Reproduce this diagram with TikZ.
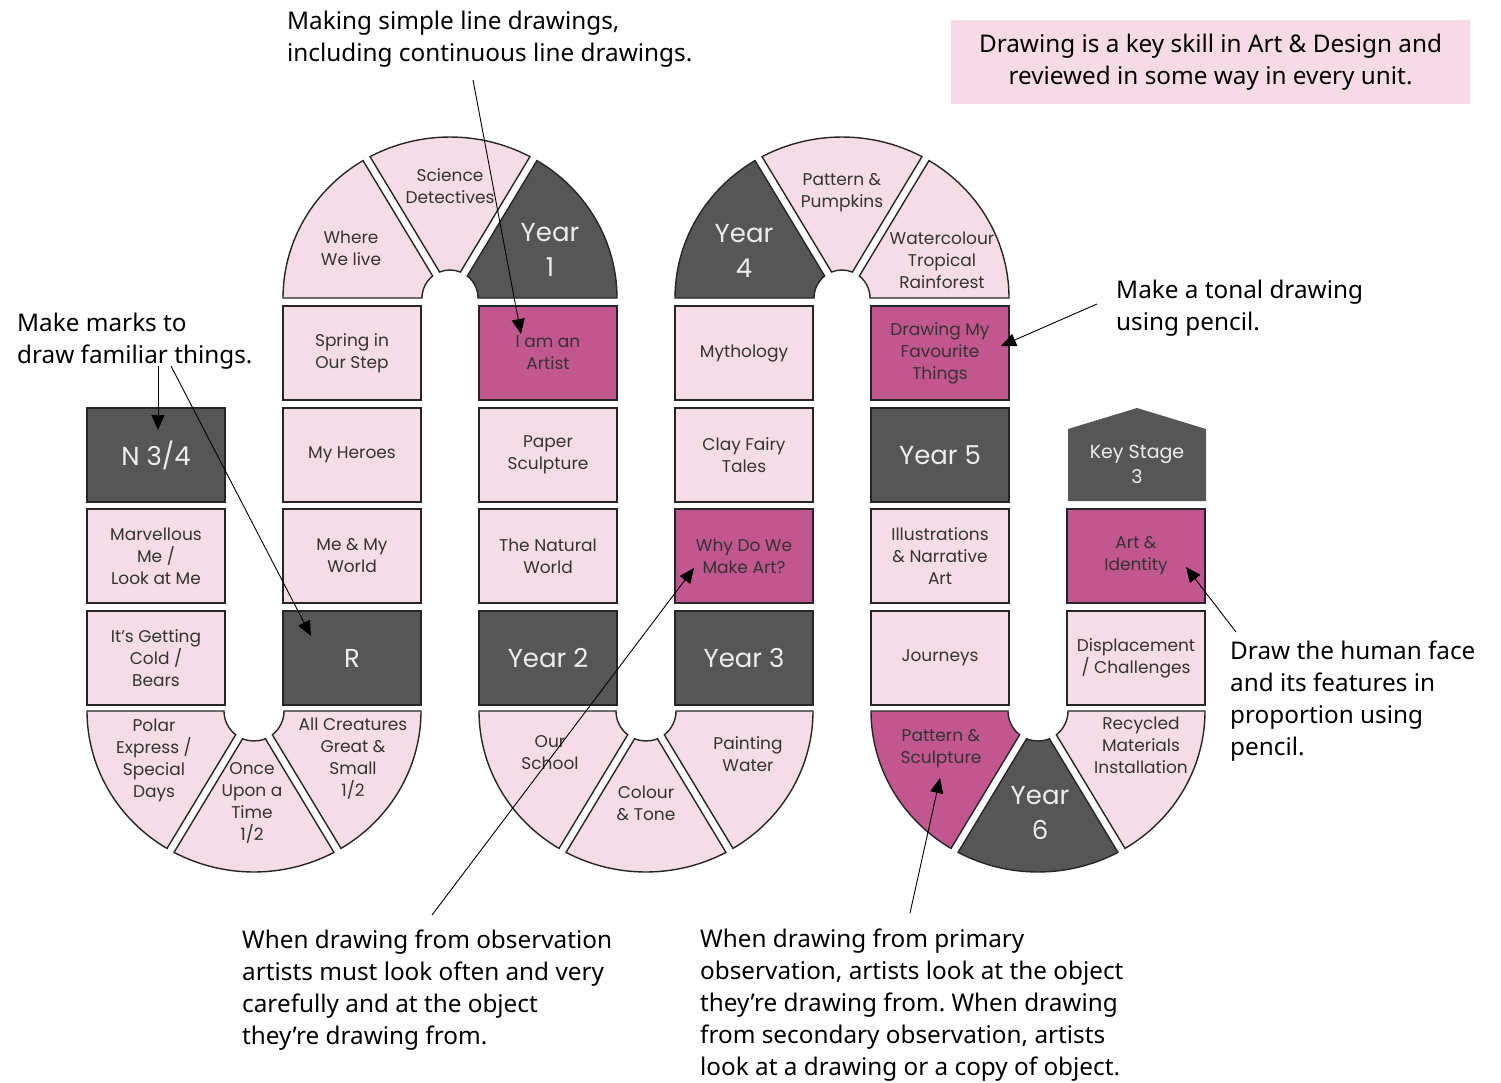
\documentclass[tikz,border=0pt]{standalone}
\usepackage{fontspec}
\setmainfont{Noto Sans}
\newfontfamily\unitfont{Poppins}
\usetikzlibrary{arrows.meta}
\frenchspacing

\definecolor{unitpink}{HTML}{F6DCE7}
\definecolor{drawpink}{HTML}{C2568F}
\definecolor{yeargrey}{HTML}{565656}
\definecolor{notepink}{HTML}{F6DBE6}
\definecolor{unittext}{HTML}{333333}

\def\Rx{167} % outer half width of a bend
\def\Ry{161} % outer height of a bend
\def\Rgap{164}
\def\Rin{28} % radius of the hole
% one piece of a bend: [fill]{cx}{cy}{start}{end}{gap at start}{gap at end}
\newcommand\DrawSector[7][unitpink]{%
  \pgfmathsetmacro\angOutA{#4+asin(#6/\Rgap)}%
  \pgfmathsetmacro\angInA{#4+asin(#6/\Rin)}%
  \pgfmathsetmacro\angOutB{#5-asin(#7/\Rgap)}%
  \pgfmathsetmacro\angInB{#5-asin(#7/\Rin)}%
  \filldraw[fill=#1, draw=black!85, line width=1.4pt, shift={(#2,#3)}]
    ({\Rx*cos(\angOutA)},{\Ry*sin(\angOutA)}) arc[start angle=\angOutA, end angle=\angOutB, x radius=\Rx, y radius=\Ry]
    -- ({\Rin*cos(\angInB)},{\Rin*sin(\angInB)}) arc[start angle=\angInB, end angle=\angInA, radius=\Rin] -- cycle;
}

\tikzset{
  unitbox/.style={draw=black!85, line width=1.4pt, fill=unitpink, minimum width=138, minimum height=94,
    inner sep=0pt, align=center, text=unittext, font=\unitfont\fontsize{17}{22}\selectfont},
  drawbox/.style={unitbox, fill=drawpink},
  yearbox/.style={unitbox, fill=yeargrey, text=white!93!black, font=\unitfont\fontsize{26}{35}\selectfont},
  sectortext/.style={align=center, inner sep=0pt, text=unittext, font=\unitfont\fontsize{17}{22}\selectfont},
  yeartext/.style={sectortext, text=white!93!black, font=\unitfont\fontsize{26}{35}\selectfont},
  remark/.style={align=left, anchor=north west, inner sep=0pt, font=\fontsize{24.3}{32}\selectfont},
  pointer/.style={-{Triangle[length=15pt,width=13pt]}, line width=0.9pt},
}

\begin{document}
\begin{tikzpicture}[x=1pt, y=-1pt]
\useasboundingbox (0,0) rectangle (1501,1082);

% bends at the top
\DrawSector{450}{298}{180}{240}{0}{4}
\DrawSector{450}{298}{240}{300}{4}{4}
\DrawSector[yeargrey]{450}{298}{300}{360}{4}{0}
\DrawSector[yeargrey]{842}{298}{180}{240}{0}{4}
\DrawSector{842}{298}{240}{300}{4}{4}
\DrawSector{842}{298}{300}{360}{4}{0}

% bends at the bottom
\def\Rin{30}
\DrawSector{254}{711}{120}{180}{4}{0}
\DrawSector{254}{711}{60}{120}{4}{4}
\DrawSector{254}{711}{0}{60}{0}{4}
\DrawSector{646}{711}{120}{180}{4}{0}
\DrawSector{646}{711}{60}{120}{4}{4}
\DrawSector{646}{711}{0}{60}{0}{4}
\DrawSector[drawpink]{1038}{711}{120}{180}{4}{0}
\DrawSector[yeargrey]{1038}{711}{60}{120}{4}{4}
\DrawSector{1038}{711}{0}{60}{0}{4}

\node[sectortext] (where) at (351,248) {Where\\We live};
\node[sectortext] (science) at (450,186) {Science\\Detectives};
\node[yeartext] (year1) at (550,250) {Year\\1};
\node[yeartext] (year4) at (744,251) {Year\\4};
\node[sectortext] (pumpkins) at (842,193) {Pattern \&\\Pumpkins};
\node[sectortext] (rainforest) at (942,260) {Watercolour\\Tropical\\Rainforest};
\node[sectortext] (polar) at (154,760) {Polar\\Express /\\Special\\Days};
\node[sectortext] (onceupon) at (252,803) {Once\\Upon a\\Time\\1/2};
\node[sectortext] (creatures) at (353,759) {All Creatures\\Great \&\\Small\\1/2};
\node[sectortext] (school) at (550,753) {Our\\School};
\node[sectortext] (colour) at (646,803) {Colour\\\& Tone};
\node[sectortext] (painting) at (748,754) {Painting\\Water};
\node[sectortext] (sculpture) at (941,749) {Pattern \&\\Sculpture};
\node[yeartext] (year6) at (1040,813) {Year\\6};
\node[sectortext] (recycled) at (1141,745) {Recycled\\Materials\\Installation};

% straight parts
\foreach \n/\x/\y/\t in {marvel/156/556/{Marvellous\\Me /\\Look at Me},
  cold/156/658/{It’s Getting\\Cold /\\Bears}, spring/352/353/{Spring in\\Our Step},
  heroes/352/455/{My Heroes}, world/352/556/{Me \& My\\World},
  paper/548/455/{Paper\\Sculpture}, natural/548/556/{The Natural\\World},
  myth/744/353/{Mythology}, clay/744/455/{Clay Fairy\\Tales},
  illus/940/556/{Illustrations\\\& Narrative\\Art}, journeys/940/658/{Journeys},
  displace/1136/658/{Displacement\\/ Challenges}}
  \node[unitbox] (\n) at (\x,\y) {\t};
\foreach \n/\x/\y/\t in {artist/548/353/{I am an\\Artist}, whyart/744/556/{Why Do We\\Make Art?},
  favourite/940/353/{Drawing My\\Favourite\\Things}, identity/1136/556/{Art \&\\Identity}}
  \node[drawbox] (\n) at (\x,\y) {\t};
\foreach \n/\x/\y/\t in {nursery/156/455/{N 3/4}, reception/352/658/{R}, year2/548/658/{Year 2},
  year3/744/658/{Year 3}, year5/940/455/{Year 5}}
  \node[yearbox] (\n) at (\x,\y) {\t};

% key stage 3 sign
\fill[yeargrey] (1068,501) -- (1068,429) -- (1137,408) -- (1206,429) -- (1206,501) -- cycle;
\node[yeartext, font=\unitfont\fontsize{19}{25}\selectfont] (stage3) at (1137,464) {Key Stage\\3};

% notes
\node[fill=notepink, minimum width=519, minimum height=84, inner sep=0pt, align=center,
  font=\fontsize{24.3}{32}\selectfont] (keynote) at (1210.5,62)
  {Drawing is a key skill in Art \& Design and\\reviewed in some way in every unit.};
\node[remark] (linenote) at (287,11) {Making simple line drawings,\\including continuous line drawings.};
\node[remark] (marksnote) at (17,313) {Make marks to\\draw familiar things.};
\node[remark] (tonalnote) at (1116,280) {Make a tonal drawing\\using pencil.};
\node[remark] (facenote) at (1230,641) {Draw the human face\\and its features in\\proportion using\\pencil.};
\node[remark] (looknote) at (242,930) {When drawing from observation\\artists must look often and very\\carefully and at the object\\they're drawing from.};
\node[remark] (primarynote) at (700,929) {When drawing from primary\\observation, artists look at the object\\they're drawing from. When drawing\\from secondary observation, artists\\look at a drawing or a copy of object.};

\coordinate (lineA) at (473,80);
\coordinate (lineB) at (521,334);
\coordinate (marksA) at (158,366);
\coordinate (marksB) at (158,430);
\coordinate (marksC) at (171,366);
\coordinate (marksD) at (311,636);
\coordinate (tonalA) at (1097,304);
\coordinate (tonalB) at (1001,346);
\coordinate (faceA) at (1236,632);
\coordinate (faceB) at (1186,567);
\coordinate (lookA) at (432,915);
\coordinate (lookB) at (694,568);
\coordinate (primaryA) at (910,913);
\coordinate (primaryB) at (940,778);

\draw[pointer] (lineA) -- (lineB);
\draw[pointer] (marksA) -- (marksB);
\draw[pointer] (marksC) -- (marksD);
\draw[pointer] (tonalA) -- (tonalB);
\draw[pointer] (faceA) -- (faceB);
\draw[pointer] (lookA) -- (lookB);
\draw[pointer] (primaryA) -- (primaryB);
\end{tikzpicture}
\end{document}
